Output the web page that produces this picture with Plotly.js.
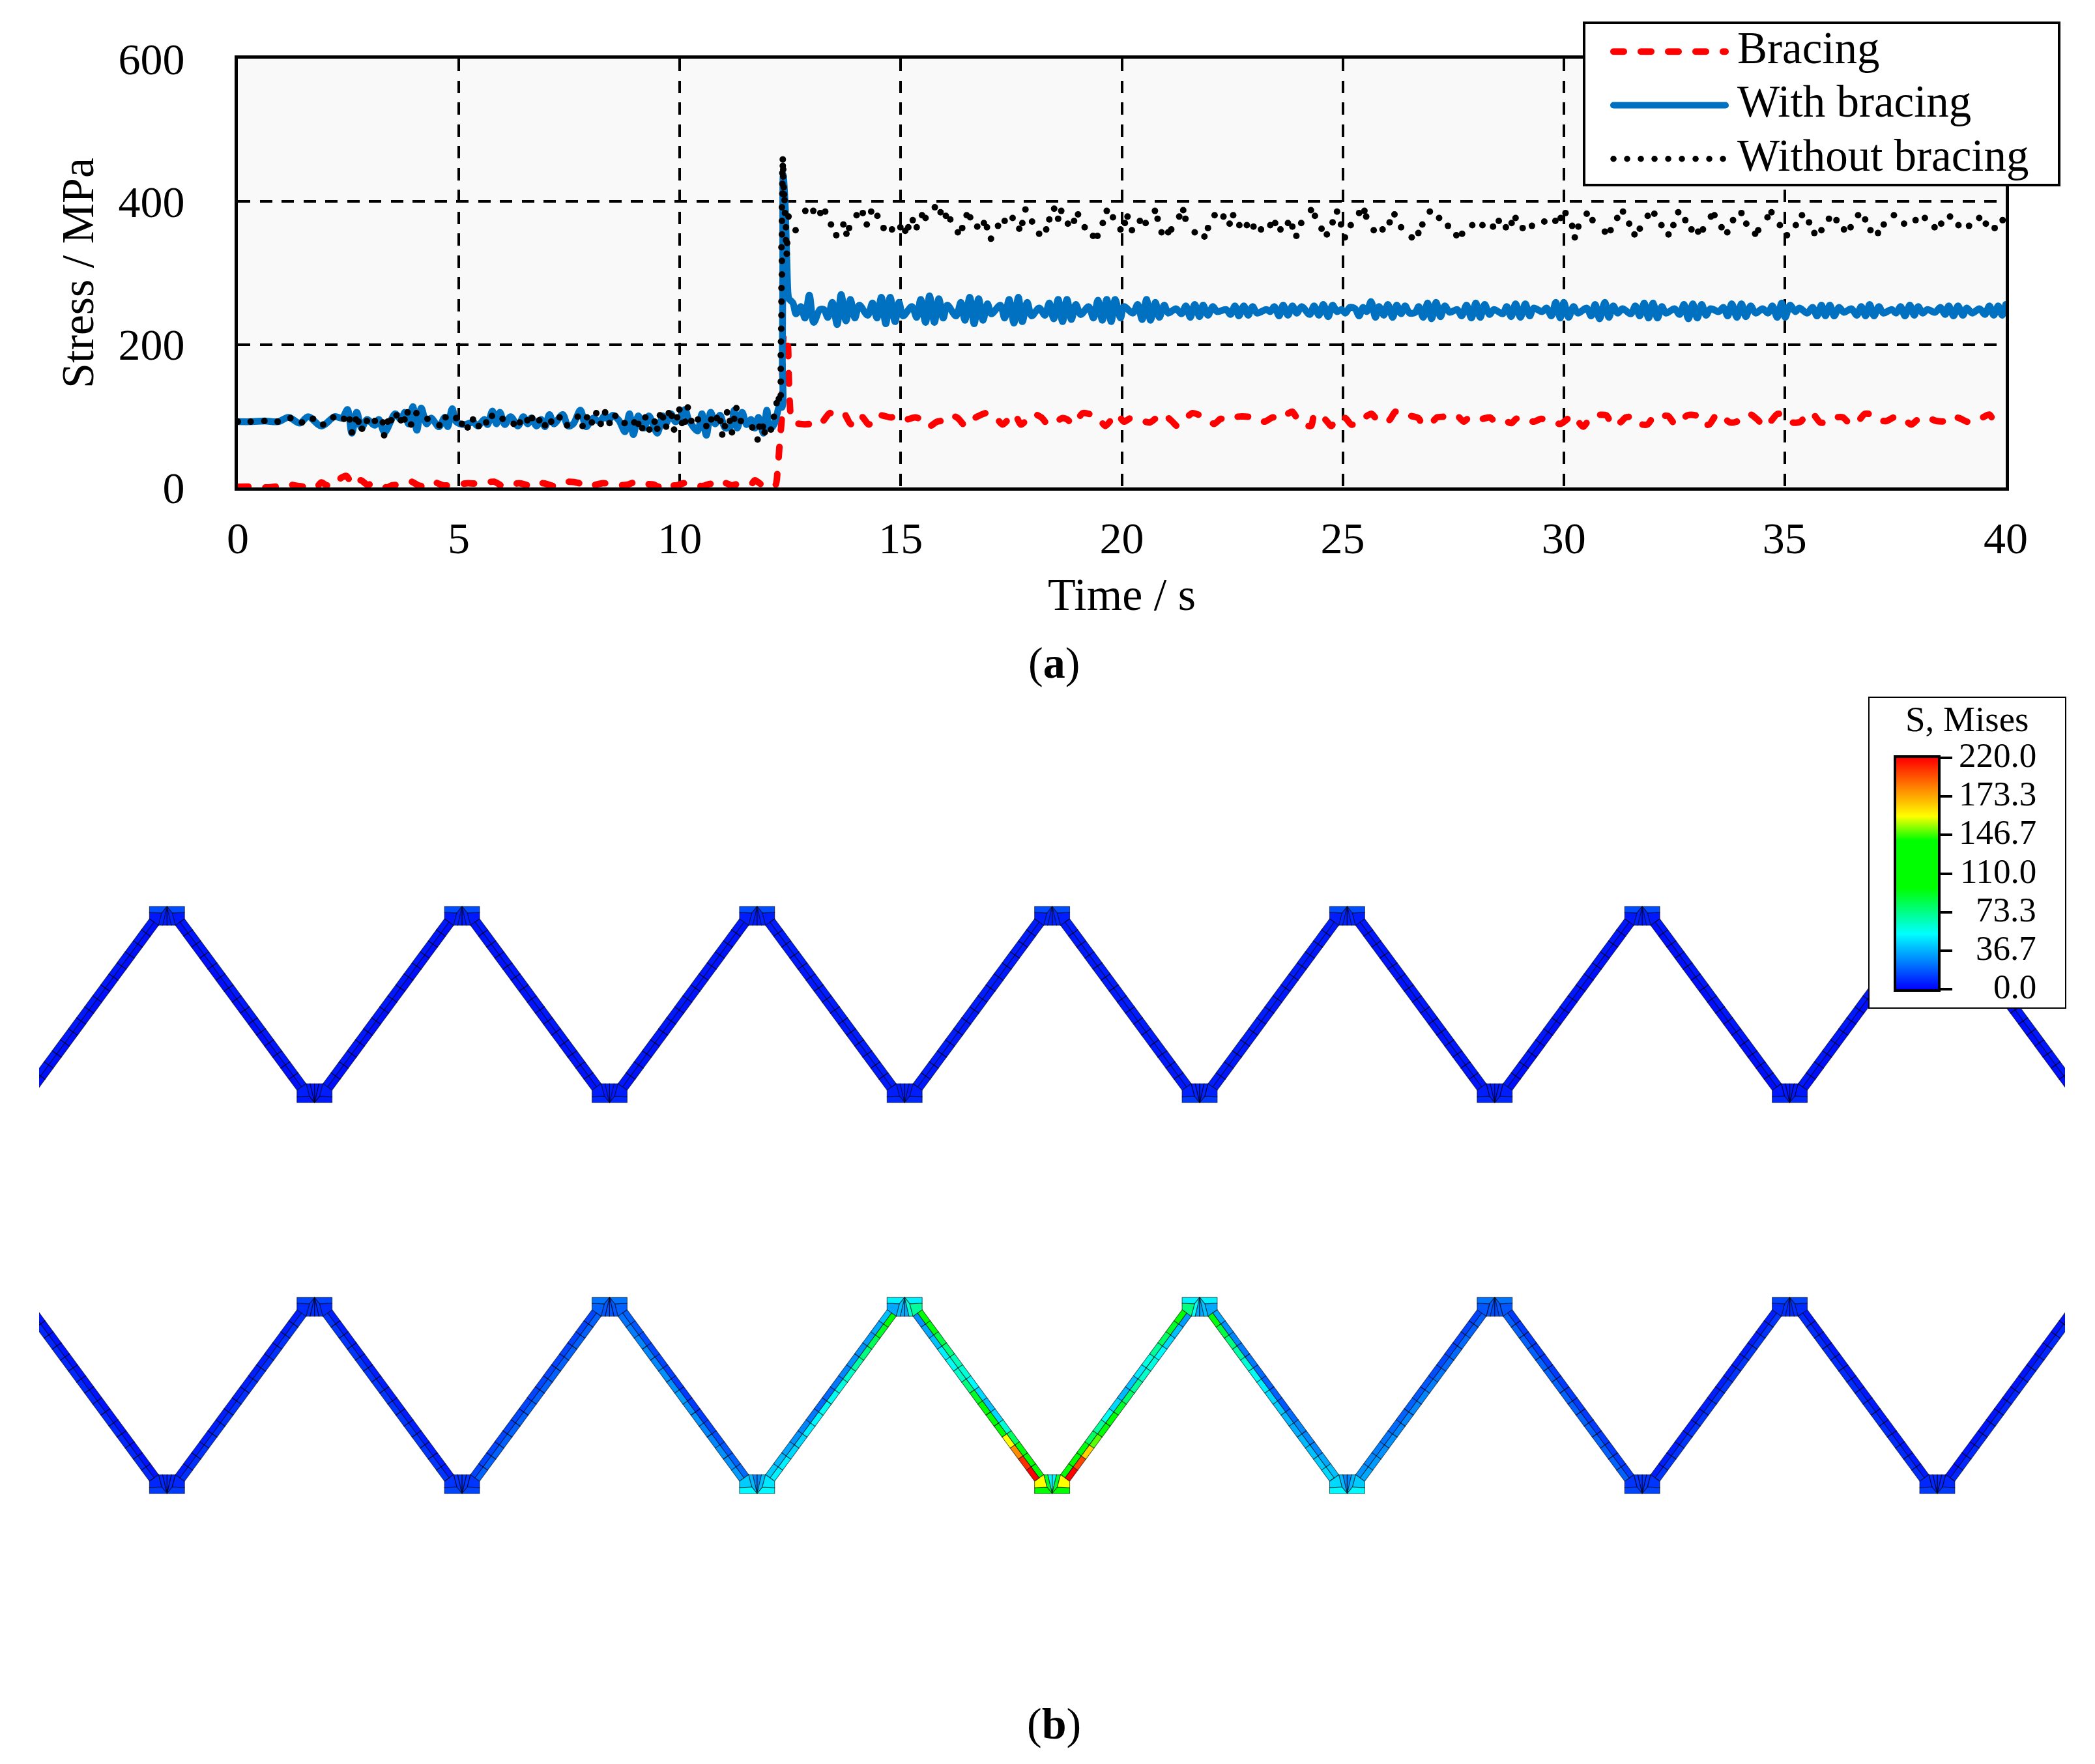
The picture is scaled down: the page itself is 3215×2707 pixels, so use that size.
<!DOCTYPE html>
<html><head><meta charset="utf-8">
<script src="https://cdn.plot.ly/plotly-3.0.1.min.js"></script>
<style>
html,body{margin:0;padding:0;background:#fff}
.js-line{stroke-linecap:round}
.legend .legendtext{font-size:69px !important;transform:translate(51px,-10px)}
.legend .legendlines{transform:translate(38px,-4px)}
.legend .bg{height:249px !important;width:729px !important}
.legend .scrollbox{clip-path:none !important}
</style></head><body><div id="chart" style="width:3215px;height:2707px"></div>
<script>
// ---------- panel (a) series ----------
const bracingTime=[0,0.32,0.65,0.96,1.18,1.35,1.52,1.77,1.89,2.01,2.24,2.33,2.46,2.60,2.78,2.92,3.14,3.37,3.49,3.71,3.93,4.08,4.30,4.45,4.64,4.87,5.21,5.45,5.80,6.02,6.36,6.56,6.73,6.90,7.15,7.47,7.72,7.89,8.04,8.26,8.62,8.82,9.02,9.17,9.41,9.51,9.61,9.73,9.93,10.10,10.30,10.52,10.69,10.89,11.03,11.18,11.38,11.62,11.70,11.92,12.16,12.21,12.26,12.31,12.36,12.42,12.45,12.46,12.48,12.51,12.56,12.70,12.95,13.05,13.22,13.39,13.56,13.71,13.86,13.98,14.10,14.28,14.42,14.55,14.77,14.96,15.11,15.33,15.50,15.63,15.82,15.99,16.14,16.29,16.46,16.59,16.76,16.93,17.13,17.30,17.57,17.72,17.99,18.18,18.33,18.50,18.65,18.77,18.89,18.97,19.12,19.46,19.63,19.88,20.05,20.20,20.42,20.64,20.91,21.13,21.25,21.41,21.60,21.89,22.09,22.24,22.43,22.63,23.00,23.22,23.42,23.56,23.78,23.86,24.03,24.28,24.35,24.45,24.62,24.74,24.87,25.06,25.19,25.33,25.50,25.65,25.82,26.05,26.19,26.32,26.54,26.71,26.81,27.03,27.13,27.32,27.57,27.74,27.86,28.08,28.33,28.43,28.60,28.82,28.92,29.17,29.31,29.49,29.71,29.93,30.05,30.20,30.44,30.62,30.96,31.11,31.30,31.40,31.60,31.72,31.89,32.06,32.21,32.36,32.53,32.80,33.02,33.12,33.29,33.47,33.61,33.76,33.91,34.06,34.20,34.40,34.52,34.69,34.84,35.01,35.17,35.36,35.51,35.65,35.80,35.95,36.17,36.32,36.49,36.64,36.81,36.96,37.13,37.30,37.47,37.67,37.86,38.01,38.21,38.43,38.65,38.75,38.95,39.12,39.31,39.51,39.63,39.73,39.85];
const bracingStress=[1,1,0,2,4,2,1,0,7,3,4,13,16,3,10,4,6,0,3,4,8,3,1,7,3,3,6,5,8,1,6,3,1,6,2,8,6,1,3,6,3,4,8,5,4,1,6,3,3,6,3,2,5,1,6,3,6,5,10,1,3,22,62,100,215,210,195,165,129,101,92,89,89,94,92,104,101,104,89,88,100,88,100,101,98,100,95,98,94,85,92,94,101,97,86,94,100,104,100,88,103,88,103,98,88,91,97,95,88,92,104,98,86,103,92,97,94,91,103,93,86,94,104,97,89,96,94,99,98,92,98,95,104,106,91,86,101,103,94,86,98,97,88,89,98,103,92,94,106,101,100,97,88,92,98,99,101,92,98,95,98,93,95,90,96,97,92,96,92,89,94,101,85,99,101,86,92,98,98,89,88,101,100,100,88,101,100,89,88,103,98,91,92,98,103,94,85,93,103,100,91,92,104,102,91,91,98,98,88,91,103,102,94,93,98,97,88,95,98,93,93,99,97,92,92,99,102,94,92];
const withTime=[0,0.32,0.61,0.91,1.15,1.40,1.59,1.89,2.19,2.36,2.48,2.58,2.69,2.80,2.92,3.10,3.19,3.32,3.56,3.69,3.78,3.86,3.96,4.05,4.15,4.27,4.37,4.55,4.68,4.75,4.85,4.94,5.13,5.33,5.43,5.58,5.65,5.76,5.85,5.93,6.04,6.17,6.34,6.46,6.56,6.64,6.76,6.86,6.95,7.05,7.15,7.35,7.47,7.59,7.75,7.88,8.04,8.18,8.31,8.40,8.48,8.62,8.76,8.86,8.95,9.06,9.19,9.30,9.49,9.61,9.68,9.80,9.90,10.01,10.12,10.20,10.40,10.50,10.60,10.70,10.80,10.91,11.03,11.16,11.23,11.30,11.41,11.51,11.61,11.70,11.78,11.89,11.97,12.04,12.14,12.26,12.31,12.32,12.33,12.34,12.38,12.42,12.45,12.47,12.56,12.63,12.74,12.83,12.93,13.03,13.17,13.26,13.35,13.45,13.56,13.65,13.76,13.86,13.96,14.06,14.25,14.36,14.46,14.56,14.66,14.76,14.87,14.96,15.05,15.25,15.36,15.45,15.56,15.65,15.76,15.86,15.96,16.05,16.25,16.36,16.45,16.56,16.66,16.76,16.86,16.96,17.05,17.25,17.35,17.45,17.56,17.66,17.75,17.86,17.96,18.13,18.26,18.36,18.46,18.56,18.66,18.76,18.86,18.96,19.07,19.25,19.36,19.46,19.56,19.66,19.76,19.85,19.97,20.05,20.25,20.36,20.46,20.56,20.65,20.76,20.85,20.96,21.05,21.23,21.35,21.45,21.55,21.65,21.76,21.84,21.95,22.06,22.16,22.36,22.46,22.56,22.65,22.76,22.86,22.96,23.06,23.27,23.36,23.45,23.56,23.65,23.76,23.86,23.96,24.07,24.25,24.35,24.46,24.56,24.67,24.77,24.87,24.97,25.06,25.16,25.28,25.37,25.46,25.54,25.64,25.74,25.82,25.93,26.02,26.13,26.22,26.32,26.41,26.51,26.64,26.72,26.82,26.92,27.01,27.11,27.21,27.31,27.42,27.59,27.69,27.80,27.91,28.01,28.11,28.21,28.32,28.42,28.62,28.71,28.81,28.91,29.02,29.13,29.23,29.32,29.51,29.61,29.72,29.82,29.92,30.00,30.11,30.22,30.32,30.52,30.62,30.71,30.81,30.93,31.02,31.12,31.22,31.33,31.52,31.62,31.72,31.82,31.92,32.02,32.12,32.22,32.31,32.51,32.62,32.72,32.82,32.92,33.02,33.12,33.22,33.32,33.51,33.61,33.71,33.80,33.92,34.02,34.12,34.23,34.34,34.50,34.62,34.72,34.83,34.93,35.01,35.12,35.24,35.33,35.51,35.63,35.73,35.83,35.92,36.02,36.12,36.23,36.34,36.51,36.63,36.73,36.83,36.92,37.02,37.13,37.23,37.42,37.52,37.62,37.72,37.83,37.93,38.02,38.12,38.23,38.40,38.52,38.63,38.71,38.82,38.92,39.03,39.12,39.24,39.41,39.53,39.63,39.73,39.83,39.92,40];
const withStress=[92,92,93,92,98,90,99,86,99,97,109,76,105,83,95,87,95,77,103,95,105,89,113,80,111,89,97,85,98,85,110,92,88,91,86,95,88,107,89,105,88,99,86,99,89,97,86,95,85,102,89,102,86,89,108,85,97,92,101,94,101,94,78,103,74,100,83,100,76,100,89,103,92,98,109,95,79,103,73,105,89,101,83,86,108,83,105,88,95,83,98,76,108,82,89,114,112,180,300,437,400,320,270,264,258,243,253,237,269,231,249,249,238,259,228,270,233,263,237,255,241,258,237,266,229,266,232,259,240,253,238,263,231,268,231,264,237,255,240,259,234,266,229,264,234,257,243,255,237,263,230,266,232,259,240,251,241,258,236,263,232,263,235,256,242,253,237,262,234,263,232,263,237,253,244,256,235,263,234,259,238,255,244,250,243,254,238,256,239,255,241,253,246,249,242,254,240,254,241,253,244,249,246,253,240,255,241,254,244,253,242,254,241,256,239,255,246,249,244,252,250,240,252,246,260,238,253,241,256,238,255,243,254,244,245,253,238,258,236,259,239,254,245,249,240,255,237,258,238,256,242,249,243,253,239,257,238,257,240,251,246,251,240,259,237,259,238,253,244,251,240,256,236,259,238,254,244,250,243,254,240,258,237,258,237,253,244,250,242,256,236,257,237,256,241,250,246,252,240,257,238,257,239,254,244,250,244,254,238,258,238,255,246,251,244,252,240,255,240,255,240,252,245,250,241,253,240,256,240,253,244,249,244,253,240,255,241,253,244,249,245,252,242,254,240,254,241,251,244,250,242,254,241,254,241,256];
const withoutTime=[0,0.29,0.60,0.90,1.19,1.45,1.70,1.93,2.16,2.40,2.53,2.58,2.67,2.73,2.81,2.92,3.10,3.28,3.31,3.39,3.47,3.59,3.69,3.77,3.84,3.92,4.04,4.29,4.56,4.70,4.94,5.07,5.20,5.32,5.45,5.62,5.75,5.99,6.24,6.38,6.55,6.66,6.82,6.95,7.09,7.28,7.45,7.69,7.80,7.90,8.01,8.11,8.21,8.31,8.41,8.54,8.75,8.97,9.06,9.15,9.22,9.31,9.43,9.49,9.55,9.62,9.69,9.75,9.82,9.87,9.94,9.99,10.05,10.12,10.18,10.26,10.41,10.60,10.71,10.84,10.92,10.96,11.02,11.07,11.13,11.18,11.23,11.28,11.38,11.64,11.76,11.80,11.88,11.92,12.06,12.13,12.19,12.24,12.285,12.285,12.285,12.285,12.29,12.295,12.30,12.30,12.30,12.31,12.31,12.30,12.31,12.31,12.31,12.32,12.32,12.32,12.33,12.33,12.34,12.34,12.35,12.36,12.37,12.38,12.40,12.40,12.42,12.43,12.46,12.62,12.84,13.02,13.18,13.29,13.42,13.54,13.70,13.77,13.83,14.00,14.14,14.23,14.33,14.47,14.61,14.80,14.99,15.10,15.17,15.27,15.36,15.48,15.56,15.77,15.90,16.02,16.12,16.29,16.39,16.49,16.57,16.73,16.88,16.95,17.04,17.20,17.35,17.53,17.68,17.75,17.82,17.97,18.13,18.29,18.36,18.47,18.56,18.63,18.78,18.92,19.01,19.16,19.35,19.45,19.57,19.66,19.80,19.97,20.07,20.13,20.23,20.41,20.54,20.75,20.81,20.90,21.05,21.12,21.30,21.39,21.44,21.65,21.87,21.95,22.10,22.30,22.44,22.52,22.66,22.83,22.98,23.15,23.36,23.47,23.59,23.76,23.86,23.95,24.06,24.28,24.37,24.52,24.64,24.77,24.87,24.96,25.05,25.18,25.37,25.49,25.53,25.70,25.90,26.06,26.17,26.32,26.56,26.71,26.80,26.97,27.18,27.38,27.57,27.70,27.93,28.16,28.40,28.53,28.69,28.82,28.91,29.07,29.28,29.56,29.81,29.93,30.04,30.19,30.25,30.33,30.52,30.65,30.93,31.06,31.21,31.34,31.48,31.60,31.72,31.90,32.05,32.21,32.37,32.48,32.59,32.75,32.89,33.04,33.15,33.33,33.41,33.57,33.70,33.83,34.02,34.13,34.33,34.40,34.61,34.70,34.89,35.05,35.25,35.39,35.55,35.67,35.83,36.00,36.17,36.34,36.49,36.66,36.82,36.94,37.11,37.24,37.47,37.70,37.96,38.17,38.39,38.54,38.74,38.93,39.17,39.40,39.55,39.75,39.93];
const withoutStress=[92,92,93,92,97,91,96,88,98,96,95,77,95,92,82,93,93,91,73,92,94,101,94,95,105,88,104,96,87,98,97,89,84,95,86,91,100,96,89,91,94,97,94,87,92,98,87,99,86,98,91,104,89,105,90,100,90,91,89,83,98,81,92,82,101,98,85,104,100,81,98,109,90,92,112,93,95,86,95,97,93,74,86,105,93,77,96,111,93,84,67,85,85,77,81,99,118,124,129,148,166,185,204,222,241,260,279,298,317,336,354,373,392,411,425,440,450,459,445,435,420,410,402,384,364,346,327,342,379,360,387,387,384,386,368,353,368,355,363,381,384,368,386,380,363,361,364,359,364,374,364,381,377,392,385,380,375,357,363,381,378,365,370,364,348,366,373,377,362,370,389,372,355,361,375,390,376,387,369,373,382,364,352,352,370,387,378,361,370,379,360,373,370,387,376,357,357,361,379,388,376,357,351,363,381,379,369,381,367,367,365,361,367,370,361,370,365,352,370,388,380,362,354,371,386,368,350,367,384,387,379,360,361,371,382,364,350,356,368,386,377,366,353,355,367,367,365,373,364,370,377,363,366,372,373,377,384,366,350,365,383,374,358,360,377,386,369,354,362,380,383,367,354,367,385,374,361,358,361,379,381,364,357,374,384,369,355,360,378,385,367,353,367,381,371,356,360,376,374,361,364,381,375,360,356,368,381,369,374,377,364,369,379,367,366,377,369,363,374,374];
const seriesNames=['Bracing','With bracing','Without bracing'];
const seriesColors=['#ff0000','#0070c0','#000000'];
const xTicks=[0,5,10,15,20,25,30,35,40];
const yTicks=[0,200,400,600];

// ---------- panel (b): Mises stress of the two truss rows ----------
// Struts run from node k to node k+1 (k=-1..12). Each has an upper-side and a lower-side strip
// of 15 cells; a single number means the whole strip reads that value.
const topRowStrutUpper=[5,5,5,5,5,6,6,6,6,5,5,5,5,5];
const topRowStrutLower=[3,3,3,4,4,5,5,5,5,4,3,3,3,3];
const topRowNodes=[[16,16,5,5,7,7,6,6],[5,5,6,6,5,5,5,5],[16,16,5,5,7,7,6,6],[8,8,6,6,5,5,6,6],[16,16,6,6,7,7,6,6],[8,8,6,6,5,5,6,6],[16,16,6,6,8,8,7,7],[12,12,7,7,7,7,7,7],[16,16,6,6,8,8,7,7],[8,8,6,6,6,6,6,6],[16,16,5,5,7,7,6,6],[8,8,5,5,5,5,5,5],[16,16,5,5,7,7,6,6]];
const bottomRowStrutUpper=[4,6,6,14,[20,18,16,15,14,13,12,12,12,12,14,16,18,20,22],[42,38,34,30,28,25,22,22,25,28,30,30,32,35,40],[100,95,85,75,65,60,52,45,40,45,60,80,95,105,115],[110,105,95,80,70,55,45,38,40,48,58,70,80,90,100],[35,30,28,25,25,22,20,20,18,22,28,28,28,35,40],[30,28,26,24,22,20,20,18,18,16,15,14,14,14,14],12,6,5,4];
const bottomRowStrutLower=[8,10,11,20,[24,26,28,28,28,30,30,32,30,30,28,28,30,30,32],[50,50,45,45,50,52,55,55,58,62,68,75,82,90,100],[30,35,40,50,55,62,75,90,105,120,140,165,190,210,220],[220,205,175,150,125,105,90,78,70,62,58,52,45,40,32],[95,85,75,68,60,55,50,45,42,38,36,38,40,42,45],[35,32,30,30,28,28,28,28,26,24,22,22,22,20,20],20,11,9,8];
const bottomRowNodes=[[12,12,8,8,8,8,8,8],[14,14,9,9,10,10,10,10],[14,14,11,11,11,11,11,11],[24,24,20,20,18,18,18,18],[52,52,42,48,38,40,28,28],[50,50,35,70,40,60,35,35],[100,100,165,165,90,90,50,50],[50,50,75,35,55,40,35,35],[52,52,45,42,38,38,28,28],[24,24,18,18,18,18,16,16],[14,14,11,11,11,11,11,11],[14,14,9,9,10,10,9,9],[12,12,8,8,8,8,8,8]];
const barTickLabels=['0.0','36.7','73.3','110.0','146.7','173.3','220.0'];
const barTickValues=[0,36.7,73.3,110,146.7,183.3,220];
const barLevels=[0,10,20,30,40,50,60,70,80,90,100,110,120,130,140,150,160,170,180,190,200,210,220];
const stressScale=[[0,'#0000ff'],[0.24,'#00ffff'],[0.44,'#00ff00'],[0.645,'#00ff00'],[0.75,'#ffff00'],[1,'#ff0000']];

// truss proportions, in model units (node pitch = 1000)
const halfWide=119, halfNarrow=57, rowHeight=1330, sideRise=84, nodeRise=128, rowGap=2650, cellCount=15;

function stressColor(v){
  const f=Math.min(1,Math.max(0,v/220));
  for(let i=1;i<stressScale.length;i++){
    if(f<=stressScale[i][0]){
      const a=stressScale[i-1],b=stressScale[i],t=(f-a[0])/((b[0]-a[0])||1);
      const pa=parseInt(a[1].slice(1),16),pb=parseInt(b[1].slice(1),16);
      const ch=s=>Math.round(((pa>>s)&255)*(1-t)+((pb>>s)&255)*t);
      return `rgb(${ch(16)},${ch(8)},${ch(0)})`;
    }
  }
  return '#ff0000';
}
const buckets={};
function addCell(pts,v){
  const c=stressColor(v);
  const b=buckets[c]||(buckets[c]={x:[],y:[]});
  pts.forEach(p=>{b.x.push(p[0]);b.y.push(p[1]);});
  b.x.push(pts[0][0],null);b.y.push(pts[0][1],null);
}
function nodeCells(k,base,dir,vals){
  const P=(u,v)=>[k*1000+u,base+dir*v];
  const w=halfWide,n=halfNarrow,BC=P(0,0),BL=P(-w,0),BR=P(w,0),L1=P(-w,40),R1=P(w,40),LC=P(-w,sideRise),RC=P(w,sideRise),
    TL=P(-n,nodeRise),TR=P(n,nodeRise),T1=P(-30,nodeRise),T2=P(30,nodeRise),T0=P(0,nodeRise),M1=P(-35,44),M2=P(35,44);
  [[BL,BC,M1,L1],[BR,BC,M2,R1],[L1,M1,TL,LC],[R1,M2,TR,RC],[M1,BC,T1,TL],[M2,BC,T2,TR],[BC,T0,T1],[BC,T0,T2]]
    .forEach((c,i)=>addCell(c,vals[i]));
}
function strut(k,row,upperVals,lowerVals){
  const peakFirst=row.isPeak(k);
  const yPeak=row.top, yValley=row.bot;
  const left=k*1000,right=(k+1)*1000;
  let upL,loL,upR,loR;
  if(peakFirst){
    upL=[left+halfWide,yPeak-sideRise];loL=[left+halfNarrow,yPeak-nodeRise];
    upR=[right-halfNarrow,yValley+nodeRise];loR=[right-halfWide,yValley+sideRise];
  }else{
    upL=[left+halfNarrow,yValley+nodeRise];loL=[left+halfWide,yValley+sideRise];
    upR=[right-halfWide,yPeak-sideRise];loR=[right-halfNarrow,yPeak-nodeRise];
  }
  const mix=(p,q,t)=>[p[0]+(q[0]-p[0])*t,p[1]+(q[1]-p[1])*t];
  for(let i=0;i<cellCount;i++){
    const t0=i/cellCount,t1=(i+1)/cellCount;
    const u0=mix(upL,upR,t0),u1=mix(upL,upR,t1),l0=mix(loL,loR,t0),l1=mix(loL,loR,t1);
    const m0=mix(u0,l0,0.5),m1=mix(u1,l1,0.5);
    const uv=Array.isArray(upperVals)?upperVals[i]:upperVals;
    const lv=Array.isArray(lowerVals)?lowerVals[i]:lowerVals;
    addCell([u0,u1,m1,m0],uv);
    addCell([m0,m1,l1,l0],lv);
  }
}
const rowA={top:rowHeight,bot:0,isPeak:k=>((k%2)+2)%2===0};
const rowB={top:rowHeight-rowGap,bot:-rowGap,isPeak:k=>((k%2)+2)%2===1};
for(let k=-1;k<=12;k++){
  strut(k,rowA,topRowStrutUpper[k+1],topRowStrutLower[k+1]);
  strut(k,rowB,bottomRowStrutUpper[k+1],bottomRowStrutLower[k+1]);
}
for(let k=0;k<=12;k++){
  if(rowA.isPeak(k)) nodeCells(k,rowA.top,-1,topRowNodes[k]); else nodeCells(k,rowA.bot,1,topRowNodes[k]);
  if(rowB.isPeak(k)) nodeCells(k,rowB.top,-1,bottomRowNodes[k]); else nodeCells(k,rowB.bot,1,bottomRowNodes[k]);
}

const W=3215,H=2707;
const px=v=>v/W, py=v=>1-v/H;
const font='"Liberation Serif","Times New Roman",serif';
const trussTraces=Object.keys(buckets).map(c=>({type:'scatter',mode:'lines',x:buckets[c].x,y:buckets[c].y,xaxis:'x2',yaxis:'y2',
  fill:'toself',fillcolor:c,line:{color:'rgba(0,0,0,0.6)',width:1.1},hoverinfo:'skip',showlegend:false}));

const traces=[
 {type:'scatter',mode:'lines',name:seriesNames[0],x:bracingTime,y:bracingStress,cliponaxis:false,line:{color:seriesColors[0],width:10,dash:'16px,26px',shape:'spline',smoothing:0.7}},
 {type:'scatter',mode:'lines',name:seriesNames[1],x:withTime,y:withStress,cliponaxis:false,line:{color:seriesColors[1],width:10.5,shape:'spline',smoothing:0.9}},
 {type:'scatter',mode:'lines',name:seriesNames[2],x:[null],y:[null],line:{color:seriesColors[2],width:9.5,dash:'0.1px,20.9px'}},
 {type:'scatter',mode:'markers',x:withoutTime,y:withoutStress,cliponaxis:false,showlegend:false,marker:{color:seriesColors[2],size:10}},
 ...trussTraces,
 {type:'scatter',mode:'lines',x:[0,1,1,0,0],y:[0,0,1,1,0],xaxis:'x3',yaxis:'y3',fill:'toself',fillcolor:'#fff',cliponaxis:false,line:{color:'#000',width:4},showlegend:false,hoverinfo:'skip'},
 {type:'heatmap',x:[0,1],y:barLevels,z:barLevels.map(v=>[v,v]),xaxis:'x4',yaxis:'y4',colorscale:stressScale,zmin:0,zmax:220,zsmooth:'best',showscale:false,hoverinfo:'skip'}
];
const barAnn=barTickLabels.map((t,i)=>({text:t,xref:'paper',yref:'y4',x:px(3127),y:barTickValues[i],xanchor:'right',yanchor:'middle',yshift:4,showarrow:false,font:{family:font,size:53,color:'#000'}}));
const layout={
 width:W,height:H,autosize:false,margin:{l:0,r:0,t:0,b:0},paper_bgcolor:'#fff',plot_bgcolor:'#fff',
 font:{family:font,color:'#000',size:68},
 xaxis:{domain:[px(365),px(3078)],range:[0,40],tickvals:xTicks,ticks:'',ticklabelstandoff:14,showline:true,mirror:true,linecolor:'#000',linewidth:5,zeroline:false,
   showgrid:true,gridcolor:'#000',gridwidth:4,griddash:'19px,14.5px',tickfont:{family:font,size:68,color:'#000'},anchor:'y',
   title:{text:'Time / s',font:{family:font,size:70,color:'#000'},standoff:26}},
 yaxis:{domain:[py(748),py(90)],range:[0,600],tickvals:yTicks,ticks:'',ticklabelstandoff:63,showline:true,mirror:true,linecolor:'#000',linewidth:5,zeroline:false,
   showgrid:true,gridcolor:'#000',gridwidth:4,griddash:'19px,14.5px',tickfont:{family:font,size:68,color:'#000'},anchor:'x',
   title:{text:'Stress / MPa',font:{family:font,size:70,color:'#000'},standoff:16}},
 xaxis2:{domain:[px(60),px(3169)],range:[-867,12866],visible:false,anchor:'y2'},
 yaxis2:{domain:[py(2340),py(1340)],range:[-2862,1555],visible:false,anchor:'x2'},
 xaxis3:{domain:[px(2867),px(3171)],range:[0,1],visible:false,anchor:'y3'},
 yaxis3:{domain:[py(1548),py(1069)],range:[0,1],visible:false,anchor:'x3'},
 xaxis4:{domain:[px(2910),px(2974)],range:[0,1],showticklabels:false,ticks:'',showline:true,mirror:true,linecolor:'#000',linewidth:4,showgrid:false,zeroline:false,anchor:'y4'},
 yaxis4:{domain:[py(1518),py(1163)],range:[0,220],side:'right',tickvals:barTickValues,ticks:'outside',ticklen:18,tickwidth:4,tickcolor:'#000',showticklabels:false,showline:true,mirror:true,linecolor:'#000',linewidth:4,showgrid:false,zeroline:false,anchor:'x4'},
 shapes:[{type:'rect',xref:'x domain',yref:'y domain',x0:0,x1:1,y0:0,y1:1,layer:'below',fillcolor:'#f9f9f9',line:{width:0}}],
 legend:{x:px(2429),y:py(33),xanchor:'left',yanchor:'top',bgcolor:'#fff',bordercolor:'#000',borderwidth:4,itemwidth:172,font:{family:font,size:61,color:'#000'},traceorder:'normal'},
 annotations:[
  {text:'(<b>a</b>)',xref:'paper',yref:'paper',x:px(1617),y:py(1017),showarrow:false,xanchor:'center',yanchor:'middle',font:{family:font,size:68,color:'#000'}},
  {text:'(<b>b</b>)',xref:'paper',yref:'paper',x:px(1617),y:py(2645),showarrow:false,xanchor:'center',yanchor:'middle',font:{family:font,size:68,color:'#000'}},
  {text:'S, Mises',xref:'paper',yref:'paper',x:px(3019),y:py(1103),showarrow:false,xanchor:'center',yanchor:'middle',font:{family:font,size:55,color:'#000'}},
  ...barAnn]
};
Plotly.newPlot('chart',traces,layout,{displayModeBar:false,staticPlot:true});
</script></body></html>
